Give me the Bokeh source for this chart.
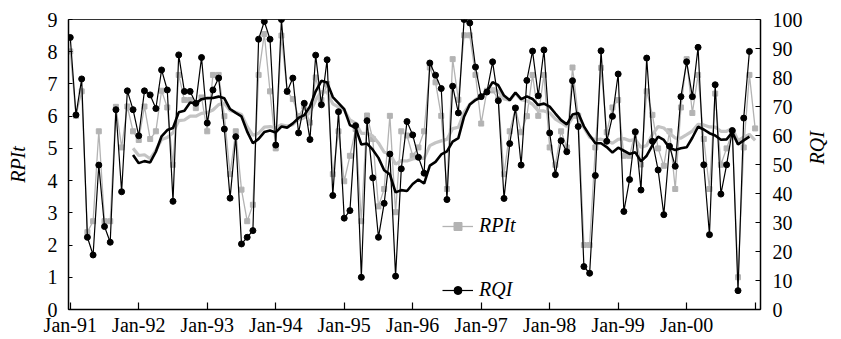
import math
import numpy as np
from bokeh.plotting import figure
from bokeh.models import Range1d, LinearAxis, FixedTicker, Legend, LegendItem
from bokeh.embed import file_html
from bokeh.resources import INLINE

# ---------------- data ----------------
# Monthly observations, Jan-91 onward (index 0 = Jan-91)
rqi = [93.8, 67.1, 79.5, 24.9, 18.8, 49.8, 28.6, 23.2, 68.9, 40.6, 75.4, 68.9,
       59.9, 75.4, 74.0, 69.3, 82.6, 75.7, 37.3, 87.8, 75.2, 75.2, 71.1, 86.9,
       64.3, 75.7, 79.8, 62.2, 38.4, 59.6, 22.6, 24.9, 27.2, 93.2, 99.3, 93.2,
       56.7, 100.0, 75.2, 79.8, 60.9, 71.1, 58.6, 87.7, 70.6, 86.1, 39.3, 68.2,
       31.5, 34.1, 63.4, 11.1, 65.1, 45.4, 24.9, 36.6, 53.6, 11.5, 48.5, 64.8,
       60.2, 52.5, 47.0, 85.0, 80.8, 76.2, 37.9, 77.0, 67.8, 100.0, 98.8, 83.6,
       73.4, 75.0, 85.4, 72.0, 38.3, 57.2, 69.5, 49.8, 79.0, 89.1, 73.7, 89.5,
       60.9, 46.5, 58.2, 54.4, 78.9, 63.1, 14.8, 12.5, 46.2, 89.2, 58.0, 66.6,
       81.2, 33.8, 44.8, 61.3, 41.2, 86.7, 58.0, 48.1, 32.7, 56.3, 49.4, 73.4,
       85.4, 73.4, 90.4, 49.9, 25.8, 77.5, 39.8, 49.9, 61.7, 6.5, 66.0, 89.0]

rpit = [8.01, 6.01, 6.77, 2.4, 2.74, 5.53, 2.74, 2.74, 6.29, 5.03, 6.3, 5.53,
        5.26, 6.3, 5.29, 5.53, 6.79, 6.27, 4.49, 7.28, 6.5, 6.5, 6.25, 6.58,
        5.53, 7.28, 7.28, 6.0, 4.2, 5.53, 3.72, 2.74, 3.25, 7.28, 8.55, 6.77,
        5.0, 8.5, 6.77, 6.53, 6.0, 6.3, 5.8, 7.2, 6.5, 7.0, 4.2, 5.53,
        3.98, 4.77, 5.6, 2.74, 6.02, 5.29, 3.2, 3.74, 6.01, 3.02, 5.53, 5.4,
        4.77, 5.03, 5.53, 7.51, 7.05, 6.01, 3.74, 7.77, 6.51, 8.51, 8.51, 7.28,
        5.77, 6.79, 6.8, 6.53, 4.2, 5.53, 6.25, 5.5, 6.0, 7.28, 6.01, 7.28,
        5.03, 4.49, 5.53, 5.03, 7.51, 6.01, 2.0, 2.0, 5.03, 7.5, 5.5, 6.27,
        6.5, 4.77, 4.77, 5.5, 4.5, 6.77, 6.04, 5.0, 4.46, 5.53, 3.74, 6.27,
        7.77, 6.1, 7.28, 5.29, 3.74, 6.7, 4.49, 5.0, 5.5, 1.0, 5.03, 7.28,
        5.62]

tick_months = [0, 12, 24, 36, 48, 60, 72, 84, 96, 108, 120]
tick_labels = ["Jan-91", "Jan-92", "Jan-93", "Jan-94", "Jan-95", "Jan-96",
               "Jan-97", "Jan-98", "Jan-99", "Jan-00", ""]
ma_period = 12  # moving-average trend lines (period 12)

# ---------------- derived ----------------
x_rqi = list(range(len(rqi)))
x_rpit = list(range(len(rpit)))
k = np.ones(ma_period) / ma_period
ma_rqi = np.convolve(rqi, k, mode="valid")
ma_rpit = np.convolve(rpit, k, mode="valid")
x_ma_rqi = list(range(ma_period - 1, len(rqi)))
x_ma_rpit = list(range(ma_period - 1, len(rpit)))

FONT = "Liberation Serif"
GRAY = "#b3b3b3"
GRAY_MA = "#c4c4c4"

p = figure(width=841, height=339, output_backend="svg", toolbar_location=None,
           x_range=Range1d(-0.31, 120.94), y_range=Range1d(0, 9),
           min_border_left=68, min_border_right=78, min_border_top=19,
           min_border_bottom=30)
p.extra_y_ranges = {"rqi": Range1d(0, 100)}
p.background_fill_color = "white"
p.border_fill_color = "white"
p.outline_line_color = "#333333"
p.outline_line_width = 1
p.xgrid.visible = False
p.ygrid.visible = False

# x axis
xa = p.xaxis[0]
xa.ticker = FixedTicker(ticks=tick_months)
xa.major_label_overrides = {t: l for t, l in zip(tick_months, tick_labels)}
xa.major_tick_in = 7
xa.major_tick_out = 0
xa.minor_tick_line_color = None
xa.axis_line_width = 1.5
xa.axis_line_color = "black"
xa.major_tick_line_width = 1.2
xa.major_label_text_font = FONT
xa.major_label_text_font_size = "20px"
xa.major_label_text_color = "black"
xa.major_label_standoff = 4

# left axis
ya = p.yaxis[0]
ya.ticker = FixedTicker(ticks=list(range(0, 10)))
ya.major_tick_in = 4
ya.major_tick_out = 0
ya.minor_tick_line_color = None
ya.axis_line_width = 1.5
ya.axis_line_color = "black"
ya.major_label_text_font = FONT
ya.major_label_text_font_size = "20px"
ya.major_label_text_color = "black"
ya.major_label_standoff = 11
ya.axis_label = "RPIt"
ya.axis_label_text_font = FONT
ya.axis_label_text_font_style = "italic"
ya.axis_label_text_font_size = "20px"
ya.axis_label_text_color = "black"
ya.axis_label_standoff = 16

# right axis
ra = LinearAxis(y_range_name="rqi", ticker=FixedTicker(ticks=list(range(0, 101, 10))))
ra.major_tick_in = 5
ra.major_tick_out = 0
ra.minor_tick_line_color = None
ra.axis_line_width = 1.5
ra.axis_line_color = "black"
ra.major_label_text_font = FONT
ra.major_label_text_font_size = "20px"
ra.major_label_text_color = "black"
ra.major_label_standoff = 12
ra.axis_label = "RQI"
ra.axis_label_text_font = FONT
ra.axis_label_text_font_style = "italic"
ra.axis_label_text_font_size = "20px"
ra.axis_label_text_color = "black"
ra.axis_label_standoff = 11
try:
    ra.axis_label_orientation = math.pi / 2
except Exception:
    pass
p.add_layout(ra, "right")

# ---------------- glyphs ----------------
l1 = p.line(x_rpit, rpit, line_color=GRAY, line_width=1.3)
s1 = p.scatter(x_rpit, rpit, marker="square", size=5, fill_color=GRAY, line_color=GRAY)
p.line(x_ma_rpit, list(ma_rpit), line_color=GRAY_MA, line_width=3.2)

l2 = p.line(x_rqi, rqi, y_range_name="rqi", line_color="black", line_width=1.2)
s2 = p.scatter(x_rqi, rqi, y_range_name="rqi", marker="circle", size=6,
               fill_color="black", line_color="black")
p.line(x_ma_rqi, list(ma_rqi), y_range_name="rqi", line_color="black", line_width=2.6)

legend = Legend(items=[LegendItem(label="RPIt", renderers=[l1, s1]),
                       LegendItem(label="RQI", renderers=[l2, s2])],
                location=(374, 8))
legend.label_text_font = FONT
legend.label_text_font_style = "italic"
legend.label_text_font_size = "20px"
legend.label_text_color = "black"
legend.glyph_width = 31
legend.glyph_height = 20
legend.label_height = 20
legend.label_standoff = 6
legend.spacing = 41
legend.padding = 0
legend.margin = 0
legend.border_line_alpha = 0
legend.background_fill_alpha = 0
p.add_layout(legend)

open("out.html", "w").write(file_html(p, INLINE))
